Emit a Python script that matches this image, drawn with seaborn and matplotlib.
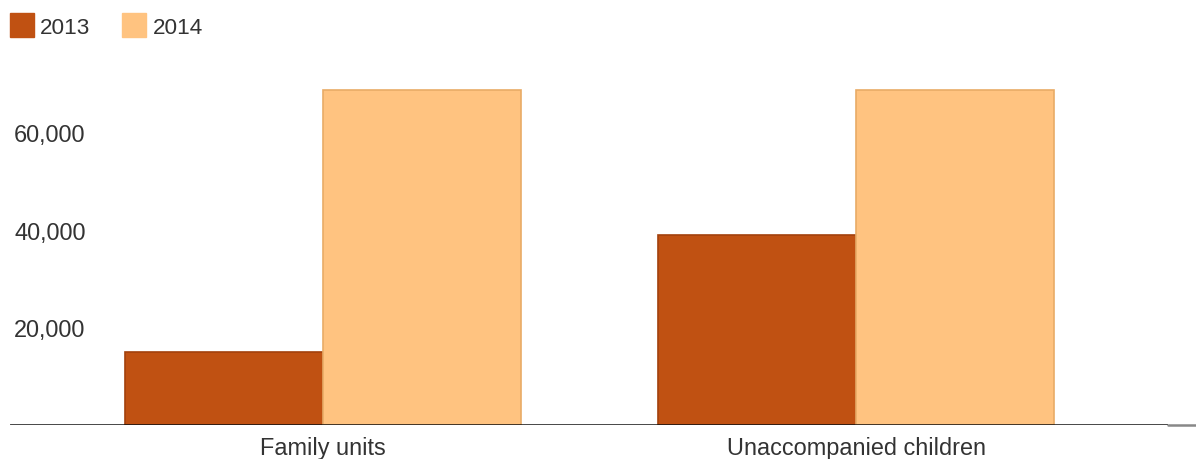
import matplotlib
matplotlib.use("Agg")
import matplotlib.pyplot as plt
from matplotlib.patches import Patch
from matplotlib.lines import Line2D
import seaborn as sns
import pandas as pd

categories = ["Family units", "Unaccompanied children"]
years = ["2013", "2014"]
values_2013 = [14900, 38800]
values_2014 = [68600, 68600]
ytick_values = [20000, 40000, 60000]
ytick_labels = ["20,000", "40,000", "60,000"]

fill_colors = {"2013": "#C05112", "2014": "#FFC380"}
edge_colors = {"2013": "#A3410C", "2014": "#E9AB66"}

df = pd.DataFrame({
    "category": categories * 2,
    "year": [years[0]] * len(categories) + [years[1]] * len(categories),
    "value": values_2013 + values_2014,
})

sns.set_theme(style="white")
plt.rcParams["font.family"] = ["Liberation Sans", "DejaVu Sans"]

W, H = 1196, 460
fig = plt.figure(figsize=(W / 100, H / 100), dpi=100)
left_px, right_px, top_px, base_px = 10, 1168, 60, 425.5
ax = fig.add_axes([left_px / W, 1 - base_px / H, (right_px - left_px) / W, (base_px - top_px) / H])

sns.barplot(data=df, x="category", y="value", hue="year", order=categories,
            hue_order=years, palette=fill_colors, width=0.743, ax=ax,
            legend=False, errorbar=None, saturation=1)

for cont, yr in zip(ax.containers, years):
    for bar in cont:
        bar.set_edgecolor(edge_colors[yr])
        bar.set_linewidth(1.2)

ax.set_xlim(-0.587, 1.585)
ax.set_ylim(0, 75000)
ax.set_yticks(ytick_values)
ax.set_yticklabels(ytick_labels)
ax.set_xlabel("")
ax.set_ylabel("")
for s in ax.spines.values():
    s.set_visible(False)

tick_fs = 16.9
ax.tick_params(axis="y", length=0, pad=-3, labelsize=tick_fs, labelcolor="#333333")
for lab in ax.get_yticklabels():
    lab.set_horizontalalignment("left")
ax.tick_params(axis="x", length=0, pad=8, labelsize=tick_fs, labelcolor="#333333")

# baseline
ax.axhline(0, color="#111111", lw=1.8, zorder=5)
fig.add_artist(Line2D([right_px / W, 1.0], [1 - base_px / H, 1 - base_px / H],
                      color="#888888", lw=1.8, transform=fig.transFigure))

handles = [Patch(facecolor=fill_colors[y], edgecolor=fill_colors[y]) for y in years]
fig.legend(handles, years, loc="upper left", bbox_to_anchor=(10 / W, 1 - 14 / H),
           ncol=2, frameon=False, fontsize=16.2, handlelength=1.067, handleheight=1.264,
           handletextpad=0.27, columnspacing=1.42, borderpad=0, borderaxespad=0,
           labelcolor="#333333")

fig.savefig("out.png", dpi=100)
